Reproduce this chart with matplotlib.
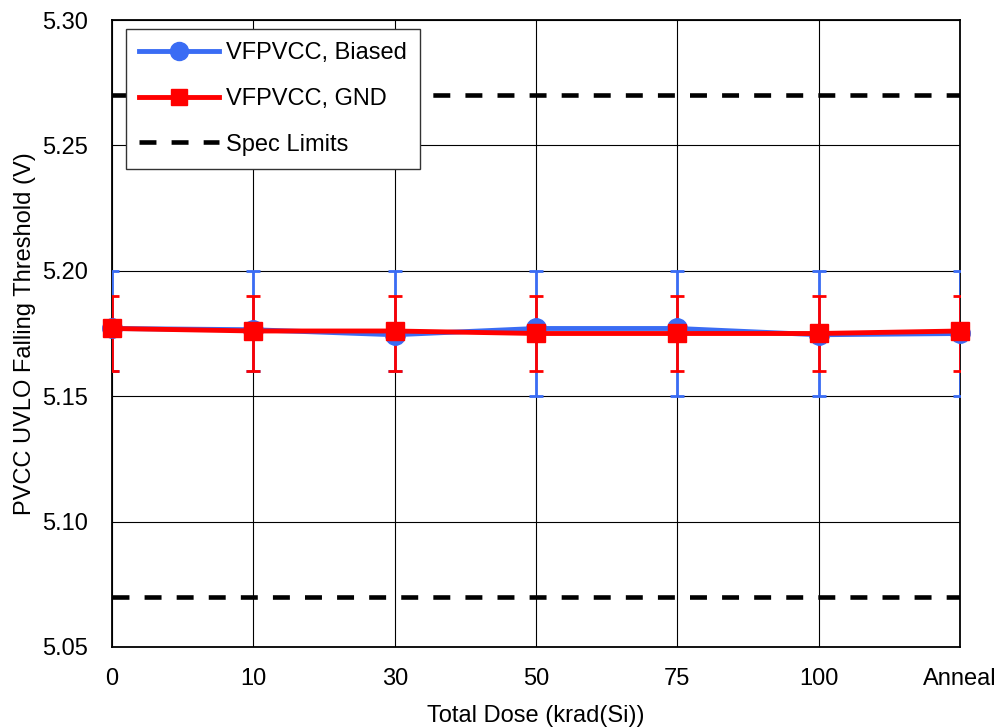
import numpy as np
import matplotlib
matplotlib.use("Agg")
import matplotlib.pyplot as plt
from matplotlib.lines import Line2D

plt.rcParams["font.family"] = ["Liberation Sans", "DejaVu Sans"]

categories = ["0", "10", "30", "50", "75", "100", "Anneal"]
biased = [5.177, 5.1765, 5.1745, 5.177, 5.177, 5.1745, 5.175]
biased_hi = [5.20, 5.20, 5.20, 5.20, 5.20, 5.20, 5.20]
biased_lo = [5.16, 5.16, 5.16, 5.15, 5.15, 5.15, 5.15]
gnd = [5.177, 5.176, 5.176, 5.175, 5.175, 5.175, 5.176]
gnd_hi = [5.19] * 7
gnd_lo = [5.16] * 7
spec_hi = 5.27
spec_lo = 5.07

x = np.arange(len(categories))
b = np.array(biased)
g = np.array(gnd)

fig = plt.figure(figsize=(10.02, 7.28), dpi=100)
ax = fig.add_axes([0.1118, 0.1113, 0.8464, 0.8612])

blue = "#3a6cf4"
red = "#ff0000"
fs = 17
dash = (0, (3.7, 3.3))

# error bars (clipped to the axes), then lines + markers on top
ax.errorbar(x, b, yerr=[b - np.array(biased_lo), np.array(biased_hi) - b],
            fmt="none", ecolor=blue, elinewidth=2, capsize=5, capthick=2, zorder=3)
ax.errorbar(x, g, yerr=[g - np.array(gnd_lo), np.array(gnd_hi) - g],
            fmt="none", ecolor=red, elinewidth=2, capsize=5, capthick=2, zorder=4)
ax.plot(x, b, color=blue, lw=3.5, marker="o", ms=14, zorder=5, clip_on=False)
ax.plot(x, g, color=red, lw=3.5, marker="s", ms=13.5, zorder=6, clip_on=False)
ax.axhline(spec_hi, color="black", lw=3.3, ls=dash, zorder=2)
ax.axhline(spec_lo, color="black", lw=3.3, ls=dash, zorder=2)

ax.set_xlim(0, len(categories) - 1)
ax.set_ylim(5.05, 5.30)
ax.set_xticks(x)
ax.set_xticklabels(categories)
ax.set_yticks(np.arange(5.05, 5.301, 0.05))
ax.yaxis.set_major_formatter(matplotlib.ticker.FormatStrFormatter("%.2f"))
ax.tick_params(axis="y", length=0, labelsize=fs, pad=17)
ax.tick_params(axis="x", length=0, labelsize=fs, pad=15)
ax.grid(True, color="black", lw=0.8)
for s in ax.spines.values():
    s.set_linewidth(1.3)

ax.set_xlabel("Total Dose (krad(Si))", fontsize=fs, labelpad=11)
ax.set_ylabel("PVCC UVLO Falling Threshold (V)", fontsize=fs, labelpad=5)

handles = [
    Line2D([], [], color=blue, lw=3.5, marker="o", ms=13),
    Line2D([], [], color=red, lw=3.5, marker="s", ms=12),
    Line2D([], [], color="black", lw=3.3, ls=dash),
]
labels = ["VFPVCC, Biased", "VFPVCC, GND", "Spec Limits"]
leg = ax.legend(handles, labels, loc="upper left", fontsize=fs, frameon=True,
                fancybox=False, edgecolor="#333333", framealpha=1, borderpad=0.55,
                labelspacing=1.0, handlelength=3.4, handletextpad=0.3,
                borderaxespad=0, bbox_to_anchor=(0.0165, 0.985))
leg.get_frame().set_linewidth(1.0)

fig.savefig("out.png", dpi=100)
